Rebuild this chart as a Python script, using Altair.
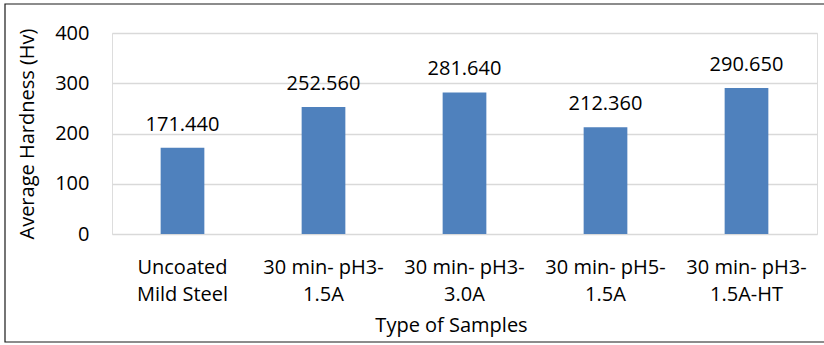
import altair as alt
import pandas as pd

categories = ["Uncoated|Mild Steel", "30 min- pH3-|1.5A", "30 min- pH3-|3.0A",
              "30 min- pH5-|1.5A", "30 min- pH3-|1.5A-HT"]
hardness = [171.440, 252.560, 281.640, 212.360, 290.650]
labels = ["171.440", "252.560", "281.640", "212.360", "290.650"]

df = pd.DataFrame({"cat": categories, "val": hardness, "lbl": labels})

FONT = "Open Sans"
FS = 20

x = alt.X("cat:N", sort=categories, title="Type of Samples",
          scale=alt.Scale(paddingInner=0.69, paddingOuter=0.345),
          axis=alt.Axis(labelAngle=0, labelExpr="split(datum.label, '|')",
                        labelLineHeight=27, labelPadding=23, labelBaseline="top",
                        ticks=False, domain=False, labelFontSize=FS,
                        labelColor="#000000", titleFontSize=FS, titleColor="#000000",
                        titleFontWeight="normal", titlePadding=11, titleX=339,
                        labelFont=FONT, titleFont=FONT))
y = alt.Y("val:Q", title="Average Hardness (Hv)",
          scale=alt.Scale(domain=[0, 400], nice=False),
          axis=alt.Axis(values=[0, 100, 200, 300, 400], ticks=False, domain=False,
                        labelFontSize=FS, labelColor="#000000", labelPadding=23,
                        titleFontSize=FS, titleColor="#000000", titleFontWeight="normal",
                        titlePadding=17, gridColor="#D9D9D9", gridWidth=1.5,
                        labelFont=FONT, titleFont=FONT))

bars = alt.Chart(df).mark_bar(color="#4F81BD").encode(x=x, y=y)
text = alt.Chart(df).mark_text(dy=-17, baseline="alphabetic", fontSize=FS,
                               font=FONT, color="#000000").encode(
    x=alt.X("cat:N", sort=categories), y="val:Q", text="lbl:N")

border = alt.Chart(alt.Data(values=[{"a": 1}])).mark_rect(
    fill=None, stroke="#1a1a1a", strokeWidth=1.2, clip=False).encode(
    x=alt.value(-107), x2=alt.value(730), y=alt.value(-29), y2=alt.value(309))

chart = alt.layer(bars, text, border).properties(
    width=705, height=201,
    autosize=alt.AutoSizeParams(type="none"),
    padding={"left": 112, "top": 33, "right": 7, "bottom": 111},
).configure_view(stroke=None).configure(background="white")

chart.save("out.html", embed_options={"renderer": "svg", "actions": False})
